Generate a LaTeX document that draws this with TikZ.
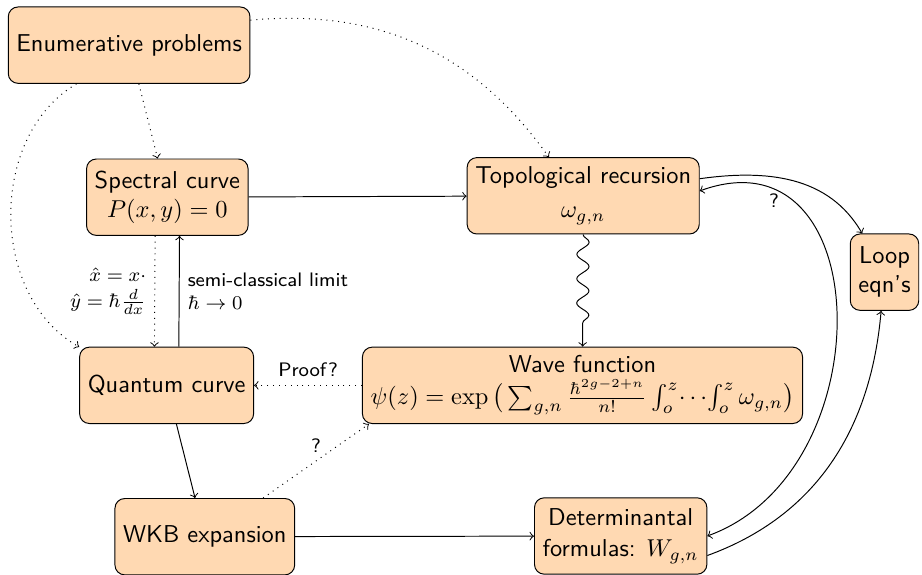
\documentclass[tikz,border=0pt]{standalone}
\usepackage{amsmath}
\usepackage{tikz}
\usetikzlibrary{calc,decorations.pathmorphing}
\tikzset{
  topic/.style={draw, rounded corners, fill=orange!30, font=\sffamily,
                align=center, minimum height=1.1cm},
  link/.style={->},
  guess/.style={->, dotted},
  lbl/.style={font=\sffamily\footnotesize}
}

\begin{document}
\begin{tikzpicture}
    \useasboundingbox (0,0) rectangle (13.28,-8.27);
    \node[topic] (enum) at (1.86,-0.65) {Enumerative problems};
    \node[topic] (spec) at (2.41,-2.84) {Spectral curve\\ $P(x,y)=0$};
    \node[topic] (topo) at (8.40,-2.82) {Topological recursion\\[2pt] $\omega_{g,n}$};
    \node[topic] (loop) at (12.74,-3.92) {Loop\\ eqn's};
    \node[topic] (quant) at (2.40,-5.55) {Quantum curve};
    \node[topic] (wave) at (8.39,-5.55) {Wave function\\[1pt]
      $\psi(z)=\exp\big(\sum_{g,n}\frac{\hbar^{2g-2+n}}{n!}\int_o^z\!\cdots\!\int_o^z\omega_{g,n}\big)$};
    \node[topic] (wkb) at (2.95,-7.73) {WKB expansion};
    \node[topic] (det) at (8.94,-7.72) {Determinantal\\[1pt] formulas: $W_{g,n}$};
    % conjectural links
    \draw[guess] (enum) -- (spec);
    \draw[guess] (enum) to[bend right=60] (quant);
    \draw[guess] (enum) to[bend left=30] (topo);
    \draw[guess] ([xshift=-5pt]spec.south) -- node[lbl, left, align=right]
      {$\hat x = x\cdot$\\[1pt] $\hat y = \hbar\frac{d}{dx}$} ([xshift=-5pt]quant.north);
    \draw[guess] (wave) -- node[lbl, above] {Proof?} (quant);
    \draw[guess] ([xshift=0.84cm]wkb.north) -- node[lbl, above] {?}
      ([xshift=0.1cm]wave.south west);
    % known links
    \draw[link] (spec) -- (topo);
    \draw[link] ([xshift=5pt]quant.north) -- node[lbl, right, align=left]
      {semi-classical limit\\ $\hbar\to0$} ([xshift=5pt]spec.south);
    \draw[link, decorate, decoration={snake, post length=2mm}] (topo) -- (wave);
    \draw[link] (quant) -- (wkb);
    \draw[link] (wkb) -- (det);
    \draw[link] ([yshift=7pt]topo.east) to[out=8, in=120] (loop);
    \draw[<->] ([yshift=2pt]topo.east) to[out=20, in=20, looseness=1.4]
      node[lbl, pos=0.13, below right] {?} (det.east);
    \draw[link] ([yshift=-8pt]det.east) to[out=20, in=-95] (loop);
  \end{tikzpicture}
\end{document}
